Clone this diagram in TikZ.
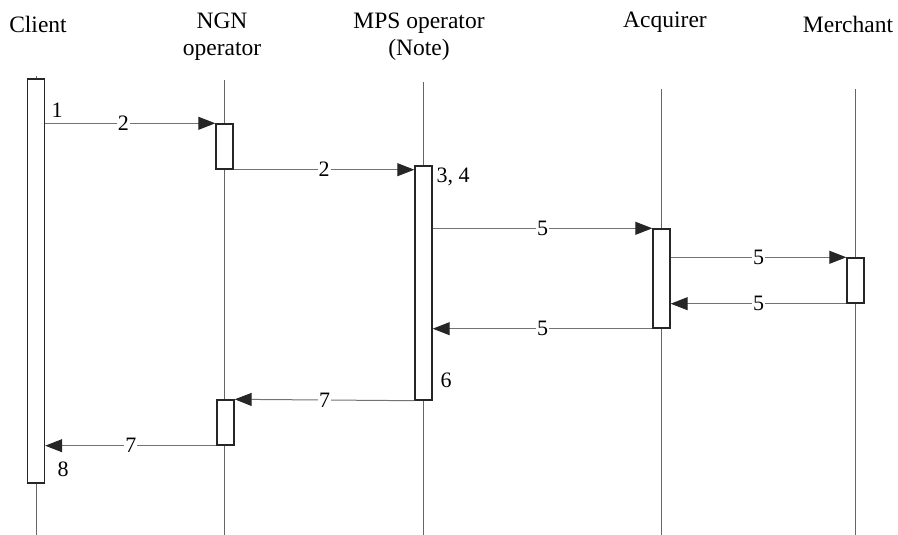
\documentclass[tikz,border=0pt]{standalone}
\usepackage{fontspec}
\setmainfont{Liberation Serif}
\usetikzlibrary{arrows.meta}
\begin{document}
\begin{tikzpicture}[x=1pt,y=-1pt,
  lifeline/.style={draw=black!60, line width=0.9pt},
  actbar/.style={rectangle, draw=black!85, fill=white, line width=1.4pt, minimum width=17pt, inner sep=0pt},
  msg/.style={draw=black!55, line width=1pt, -{Triangle[length=17pt,width=13pt,color=black!85]}},
  msglabel/.style={fill=white, inner sep=1pt, font=\fontsize{22}{24}\selectfont},
  steplabel/.style={inner sep=0pt, font=\fontsize{22}{24}\selectfont},
  head/.style={align=center, inner sep=0pt, font=\fontsize{23.5}{27}\selectfont}]
\useasboundingbox (0,0) rectangle (898,535);
% heads
\node[head] (hc) at (38,24) {Client};
\node[head] (hn) at (222,37) {NGN\\operator};
\node[head] (hm) at (419,37) {MPS operator\\(Note)};
\node[head] (ha) at (665,22) {Acquirer};
\node[head] (hr) at (848,24) {Merchant};
% lifelines
\coordinate (lc1) at (36,76);  \coordinate (lc2) at (36,535);
\coordinate (ln1) at (224,80); \coordinate (ln2) at (224,535);
\coordinate (lm1) at (423,82); \coordinate (lm2) at (423,535);
\coordinate (la1) at (661,89); \coordinate (la2) at (661,535);
\coordinate (lr1) at (855,89); \coordinate (lr2) at (855,535);
\draw[lifeline] (lc1) -- (lc2);
\draw[lifeline] (ln1) -- (ln2);
\draw[lifeline] (lm1) -- (lm2);
\draw[lifeline] (la1) -- (la2);
\draw[lifeline] (lr1) -- (lr2);
% activation bars
\node[actbar, minimum height=404pt] (cb) at (36,281) {};
\node[actbar, minimum height=45pt] (nb1) at (224.5,146.5) {};
\node[actbar, minimum height=45pt] (nb2) at (225.5,422.5) {};
\node[actbar, minimum height=234pt] (mb) at (423.5,283) {};
\node[actbar, minimum height=99pt] (ab) at (661.5,278.5) {};
\node[actbar, minimum height=45pt] (rb) at (855.5,280.5) {};
% messages
\draw[msg] (cb.east |- nb1.north west) -- node[msglabel, pos=0.46] {2} (nb1.north west);
\draw[msg] (nb1.south east) -- node[msglabel, pos=0.5] {2} (mb.west |- nb1.south east);
\draw[msg] (mb.east |- ab.north west) -- node[msglabel, pos=0.5] {5} (ab.north west);
\draw[msg] (ab.east |- rb.north west) -- node[msglabel, pos=0.5] {5} (rb.north west);
\draw[msg] (rb.south west) -- node[msglabel, pos=0.5] {5} (ab.east |- rb.south west);
\draw[msg] (ab.south west) -- node[msglabel, pos=0.5] {5} (mb.east |- ab.south west);
\draw[msg] (mb.south west) -- node[msglabel, pos=0.5] {7} (nb2.north east);
\draw[msg] (nb2.south west) -- node[msglabel, pos=0.5] {7} (cb.east |- nb2.south west);
% step numbers
\node[steplabel] (s1) at (57,110) {1};
\node[steplabel] (s34) at (453,177) {3, 4};
\node[steplabel] (s6) at (446,380) {6};
\node[steplabel] (s8) at (63,469) {8};
\end{tikzpicture}
\end{document}
